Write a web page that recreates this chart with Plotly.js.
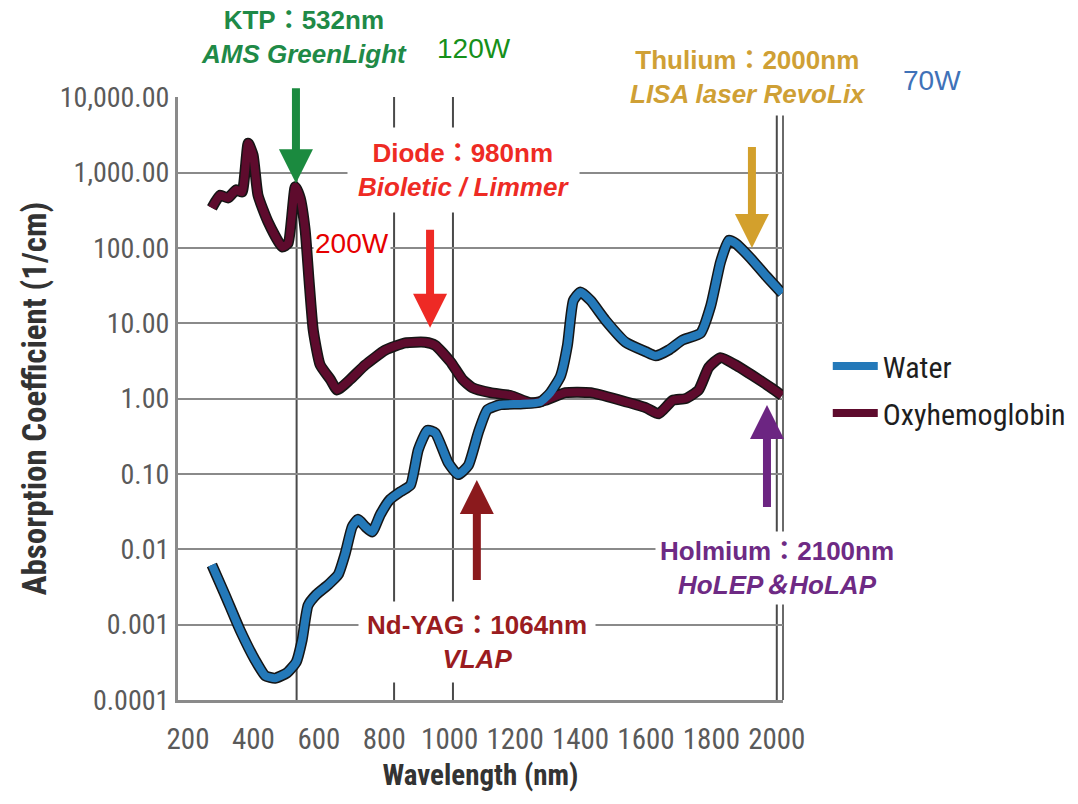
<!DOCTYPE html>
<html>
<head>
<meta charset="utf-8">
<script src="https://cdn.plot.ly/plotly-3.0.1.min.js"></script>
<style>
html,body{margin:0;padding:0;background:#fff;}
#chart{width:1078px;height:804px;}
#chart .xtick text, #chart .ytick text, #chart text.legendtext, #chart text.xtitle, #chart text.ytitle { font-stretch: condensed !important; }
</style>
</head>
<body>
<div id="chart"></div>
<script>
// ---- data ----
const waterWavelength = [273, 313, 359, 405, 436, 466, 503, 531, 549, 567, 592, 629, 659, 681, 702, 720, 742, 763, 788, 818, 849, 880, 904, 932, 956, 996, 1026, 1057, 1088, 1115, 1155, 1216, 1277, 1308, 1339, 1360, 1378, 1400, 1431, 1476, 1538, 1599, 1630, 1669, 1712, 1767, 1798, 1828, 1853, 1874, 1920, 1966, 2016];
const waterAbsorption = [0.0062, 0.0025, 0.00085, 0.00034, 0.00021, 0.000195, 0.00023, 0.00032, 0.00063, 0.0018, 0.0025, 0.0034, 0.0046, 0.0089, 0.02, 0.025, 0.02, 0.017, 0.029, 0.046, 0.058, 0.071, 0.21, 0.38, 0.35, 0.14, 0.098, 0.13, 0.36, 0.71, 0.83, 0.85, 0.9, 1.2, 2.0, 5.1, 20, 26, 20, 11, 5.6, 4.2, 3.7, 4.4, 6.0, 7.4, 17, 65, 126, 115, 73, 43, 25];

const hbWavelength = [273, 298, 322, 347, 365, 384, 399, 414, 445, 488, 506, 528, 543, 558, 570, 583, 604, 635, 656, 696, 742, 803, 864, 925, 956, 1002, 1039, 1069, 1124, 1186, 1247, 1293, 1354, 1431, 1522, 1599, 1639, 1682, 1721, 1761, 1792, 1828, 1874, 1936, 1982, 2016];
const hbAbsorption = [340, 500, 460, 590, 550, 2450, 1700, 500, 220, 103, 115, 650, 460, 175, 37, 8, 2.8, 1.8, 1.3, 1.8, 2.8, 4.4, 5.5, 5.6, 5.1, 3.1, 1.8, 1.4, 1.2, 1.1, 0.88, 0.95, 1.2, 1.2, 0.95, 0.76, 0.63, 0.95, 1.0, 1.3, 2.6, 3.5, 2.8, 1.9, 1.4, 1.1];

const seriesNames = ["Water", "Oxyhemoglobin"];
const xTickVals = [200, 400, 600, 800, 1000, 1200, 1400, 1600, 1800, 2000];
const xTickText = ["200", "400", "600", "800", "1000", "1200", "1400", "1600", "1800", "2000"];
const yTickVals = [0.0001, 0.001, 0.01, 0.1, 1, 10, 100, 1000, 10000];
const yTickText = ["0.0001", "0.001", "0.01", "0.10", "1.00", "10.00", "100.00", "1,000.00", "10,000.00"];
const gridWavelengths = [532, 830, 1010, 2000];

// laser markers: wavelength where arrow points, absorption at arrow tip
const laserArrowX = [530, 940, 1924, 1970, 1083];
const laserArrowY = [720, 8.7, 100, 0.82, 0.083];

const NARROW = '"Roboto Condensed", "DejaVu Sans Condensed", "DejaVu Sans", sans-serif';
const BOLD = '"Liberation Sans", Arial, "Noto Sans CJK TC", sans-serif';
const WATTS = '"Liberation Sans", Arial, sans-serif';
const WATER_C = '#2479b9';
const HB_C = '#5e0b2d';

const traces = [
  {x: hbWavelength, y: hbAbsorption, mode: 'lines', line: {color: '#151515', width: 11, shape: 'spline', smoothing: 0.5}, showlegend: false, hoverinfo: 'skip'},
  {x: waterWavelength, y: waterAbsorption, mode: 'lines', line: {color: '#151515', width: 11, shape: 'spline', smoothing: 0.5}, showlegend: false, hoverinfo: 'skip'},
  {x: hbWavelength, y: hbAbsorption, mode: 'lines', name: seriesNames[1], legendgroup: 'b', legendrank: 2, line: {color: HB_C, width: 8, shape: 'spline', smoothing: 0.5}},
  {x: waterWavelength, y: waterAbsorption, mode: 'lines', name: seriesNames[0], legendgroup: 'a', legendrank: 1, line: {color: WATER_C, width: 8, shape: 'spline', smoothing: 0.5}}
];

const shapes = gridWavelengths.map(w => ({
  type: 'line', xref: 'x', yref: 'paper', x0: w, x1: w, y0: 0, y1: 1,
  line: {color: '#4a4a4a', width: 2}, layer: 'below'
}));
shapes.push({type: 'line', xref: 'paper', yref: 'paper', x0: 1, x1: 1, y0: 0, y1: 1, line: {color: '#6a6a6a', width: 2}, layer: 'below'});

const arrowColors = ['#1b8a3f', '#ee2a25', '#d3a02c', '#6c2582', '#8b1a1d'];
const arrowOffsets = [-105, -108, -111, 112, 110];
const annotations = laserArrowX.map((x, i) => ({
  x: x, y: Math.log10(laserArrowY[i]), xref: 'x', yref: 'y', text: ' ',
  showarrow: true, arrowhead: 2, arrowsize: 0.85, arrowwidth: 8, arrowcolor: arrowColors[i],
  ax: 0, ay: arrowOffsets[i], standoff: 0
}));

function label(px, py, text, color, size, family, bg, pad) {
  return {xref: 'paper', yref: 'paper', x: (px - 178) / 605, y: (700 - py) / 603,
    xanchor: 'center', yanchor: 'middle', showarrow: false, text: text,
    font: {family: family || BOLD, size: size, color: color},
    bgcolor: bg === false ? 'rgba(0,0,0,0)' : '#ffffff', borderpad: pad || 4};
}
annotations.push(
  label(304, 37, '<b>KTP：532nm</b><br><b><i>AMS GreenLight</i></b>', '#1f8a47', 26),
  label(463, 170, '<b>Diode：980nm</b><br><b><i>Bioletic / Limmer</i></b>', '#ee2b24', 26, null, true, 10),
  label(748, 77, '<b>Thulium：2000nm</b><br><b><i>LISA laser RevoLix</i></b>', '#cfa035', 26, null, true, 6),
  label(777, 568, '<b>Holmium：2100nm</b><br><b><i>HoLEP＆HoLAP</i></b>', '#6e2a84', 26, null, true, 4),
  label(477, 642, '<b>Nd-YAG：1064nm</b><br><b><i>VLAP</i></b>', '#9a1c1f', 26, null, true, 8),
  label(474, 48, '120W', '#16901a', 28, WATTS, false),
  label(932, 80, '70W', '#3f72b8', 28, WATTS, false),
  label(352, 243, '200W', '#e60000', 28, WATTS, true, 1)
);

const layout = {
  width: 1078, height: 804,
  margin: {l: 178, r: 295, t: 97, b: 104, autoexpand: false},
  paper_bgcolor: '#ffffff', plot_bgcolor: '#ffffff',
  showlegend: true,
  legend: {x: 1.074, y: 0.515, xanchor: 'left', yanchor: 'middle', traceorder: 'grouped', tracegroupgap: 5,
    font: {family: NARROW, size: 30, color: '#1e1e1e'}, itemwidth: 45, bgcolor: 'rgba(0,0,0,0)'},
  xaxis: {
    type: 'linear', range: [169.4, 2019], tickvals: xTickVals, ticktext: xTickText, tickangle: 0,
    showgrid: false, zeroline: false, showline: true, linecolor: '#8a8a8a', linewidth: 3,
    ticks: '', ticklabelstandoff: 11,
    tickfont: {family: NARROW, size: 29, color: '#5a5a5a'},
    title: {text: '<b>Wavelength (nm)</b>', font: {family: NARROW, size: 29, color: '#333333'}, standoff: 10}
  },
  yaxis: {
    type: 'log', range: [-4, 4.003], tickvals: yTickVals, ticktext: yTickText,
    showgrid: true, gridcolor: '#8a8a8a', gridwidth: 2, zeroline: false,
    showline: true, linecolor: '#8a8a8a', linewidth: 3,
    ticks: '', ticklabelstandoff: 0,
    tickfont: {family: NARROW, size: 28, color: '#5a5a5a'},
    title: {text: '<b>Absorption Coefficient (1/cm)</b>', font: {family: NARROW, size: 33, color: '#333333'}, standoff: 4}
  },
  shapes: shapes,
  annotations: annotations
};

Plotly.newPlot('chart', traces, layout, {staticPlot: true});
</script>
</body>
</html>
